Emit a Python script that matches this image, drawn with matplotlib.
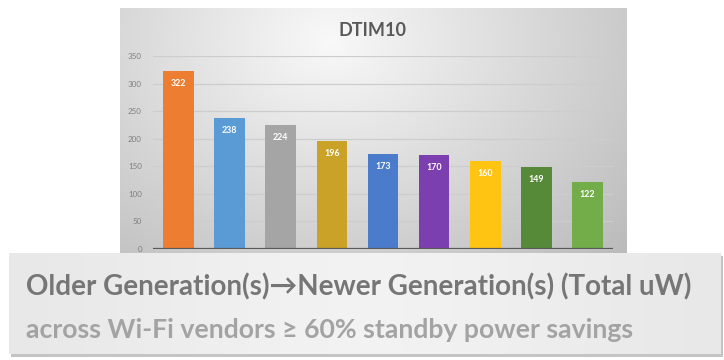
import numpy as np
import matplotlib
matplotlib.use("Agg")
import matplotlib.pyplot as plt
from matplotlib.patches import Rectangle

# ---- data ----
categories = ["G1", "G2", "G3", "G4", "G5", "G6", "G7", "G8", "G9"]
values = [322, 238, 224, 196, 173, 170, 160, 149, 122]
bar_colors = ["#ED7D31", "#5B9BD5", "#A5A5A5", "#C9A227", "#4A7CCB",
              "#7B3FAF", "#FFC312", "#568A38", "#72AD4A"]
yticks = [0, 50, 100, 150, 200, 250, 300, 350]
title = "DTIM10"
banner_line1 = "Older Generation(s)\u2192Newer Generation(s) (Total uW)"
banner_line2 = "across Wi-Fi vendors \u2265 60% standby power savings"

W, H = 724, 360
fig = plt.figure(figsize=(W / 100, H / 100), dpi=100)
fig.patch.set_facecolor("white")

# background axes in pixel coordinates
bg = fig.add_axes([0, 0, 1, 1], zorder=0)
bg.set_xlim(0, W)
bg.set_ylim(H, 0)
bg.axis("off")

# chart panel radial gradient
px0, px1, py0, py1 = 120, 627, 8, 256
nx, ny = 300, 160
xx, yy = np.meshgrid(np.linspace(px0, px1, nx), np.linspace(py0, py1, ny))
cx, cy = 330, 40
d = np.sqrt(((xx - cx) / 330.0) ** 2 + ((yy - cy) / 260.0) ** 2)
val = 0.975 - 0.2 * np.clip(d, 0, 1.2)
img = np.dstack([val, val, val])
bg.imshow(img, extent=(px0, px1, py1, py0), aspect="auto", zorder=1)

# plot axes
ax_left, ax_right = 153, 613
y_zero, y_top = 249, 56
ax = fig.add_axes([ax_left / W, 1 - y_zero / H, (ax_right - ax_left) / W,
                   (y_zero - y_top) / H], zorder=2)
ax.patch.set_alpha(0)
x = np.arange(len(values))
bars = ax.bar(x, values, width=0.6, color=bar_colors, zorder=3)
ax.set_xlim(-0.5, len(values) - 0.5)
ax.set_ylim(0, 350)
ax.set_yticks(yticks)
ax.set_yticklabels([str(t) for t in yticks], fontsize=5.8, color="#7F7F7F",
                   family=["Lato", "DejaVu Sans"])
ax.tick_params(axis="y", length=0, pad=8)
ax.set_xticks([])
for s in ax.spines.values():
    s.set_visible(False)
ax.grid(axis="y", color="#CDCDCD", linewidth=0.9, zorder=0)
ax.axhline(0, color="#595959", linewidth=1.6, zorder=4)
for xi, v in zip(x, values):
    ax.annotate(str(v), (xi, v), xytext=(0, -9), textcoords="offset points",
                ha="center", va="center", fontsize=6.4, fontweight="bold",
                color="white", family=["Lato", "DejaVu Sans"], zorder=5)

fig.text(373 / W, 1 - 31 / H, title, ha="center", va="center", fontsize=13,
         fontweight="bold", color="#595959", family=["Lato", "DejaVu Sans"])

# banner overlay
ov = fig.add_axes([0, 0, 1, 1], zorder=5)
ov.set_xlim(0, W)
ov.set_ylim(H, 0)
ov.axis("off")
ov.patch.set_alpha(0)
bx0, bx1, by0, by1 = 9, 721, 253, 354
ov.add_patch(Rectangle((bx0 + 2, by0 + 3), bx1 - bx0, by1 - by0,
                       facecolor="#C4C4C4", edgecolor="none", zorder=1))
gx = np.linspace(0, 1, 300)
gv = 0.905 + 0.045 * np.exp(-((gx - 0.5) / 0.35) ** 2)
gimg = np.dstack([np.tile(gv, (20, 1))] * 3)
ov.imshow(gimg, extent=(bx0, bx1, by1, by0), aspect="auto", zorder=2)
ov.text(26, 295, banner_line1, ha="left", va="baseline", fontsize=20,
        fontweight="bold", color="#767676", family=["Lato", "DejaVu Sans"], zorder=3)
ov.text(26, 338, banner_line2, ha="left", va="baseline", fontsize=19.2,
        fontweight="bold", color="#A3A3A3", family=["Lato", "DejaVu Sans"], zorder=3)
ov.set_xlim(0, W)
ov.set_ylim(H, 0)

fig.savefig("out.png", dpi=100, facecolor="white")
